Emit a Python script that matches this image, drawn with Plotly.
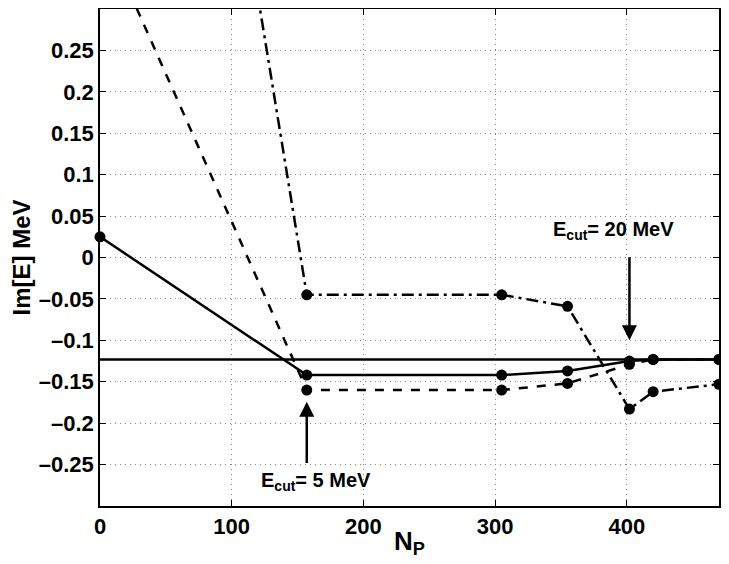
import plotly.graph_objects as go

# N_P values and Im[E] (MeV) for each run
np_solid = [0, 157, 305, 355, 402, 420, 470]
im_solid = [0.025, -0.142, -0.142, -0.137, -0.125, -0.123, -0.123]

np_dash = [0, 157, 305, 355, 402, 420, 470]
im_dash = [0.40, -0.160, -0.160, -0.152, -0.129, -0.123, -0.123]

np_dashdot = [0, 157, 305, 355, 402, 420, 470]
im_dashdot = [1.48, -0.045, -0.045, -0.059, -0.183, -0.162, -0.153]

# exact reference value (horizontal line)
ref_x = [0, 470]
ref_y = [-0.123, -0.123]

FONT = "Liberation Sans"

fig = go.Figure()

fig.add_trace(go.Scatter(x=ref_x, y=ref_y, mode="lines",
                         line=dict(color="black", width=2.5),
                         showlegend=False, hoverinfo="skip"))

series = [
    (np_solid, im_solid, "solid"),
    (np_dash, im_dash, "dash"),
    (np_dashdot, im_dashdot, "12px,5px,3px,5px"),
]
for xs, ys, dash in series:
    fig.add_trace(go.Scatter(
        x=xs, y=ys, mode="lines+markers",
        line=dict(color="black", width=2.5, dash=dash),
        marker=dict(color="black", size=11),
        showlegend=False, cliponaxis=False
    ))

# arrows
fig.add_annotation(x=402, y=-0.1, ax=402, ay=0.002, xref="x", yref="y",
                   axref="x", ayref="y", text="", showarrow=True,
                   arrowhead=2, arrowsize=1.2, arrowwidth=2.5, arrowcolor="black")
fig.add_annotation(x=157, y=-0.174, ax=157, ay=-0.25, xref="x", yref="y",
                   axref="x", ayref="y", text="", showarrow=True,
                   arrowhead=2, arrowsize=1.2, arrowwidth=2.5, arrowcolor="black")

fig.add_annotation(x=390, y=0.033, xref="x", yref="y", showarrow=False,
                   text="<b>E<sub>cut</sub>= 20 MeV</b>",
                   font=dict(family=FONT, size=20, color="black"))
fig.add_annotation(x=164, y=-0.270, xref="x", yref="y", showarrow=False,
                   text="<b>E<sub>cut</sub>= 5 MeV</b>",
                   font=dict(family=FONT, size=20, color="black"))

# x-axis title placed as an annotation so it can sit closer to the tick labels
fig.add_annotation(x=0.5, y=0, xref="paper", yref="paper", yanchor="middle",
                   yshift=-36, showarrow=False,
                   text="<b>N<sub>P</sub></b>",
                   font=dict(family=FONT, size=26, color="black"))

axis_common = dict(
    showline=True, linecolor="black", linewidth=1.5, mirror="ticks",
    ticks="inside", ticklen=6, tickcolor="black",
    showgrid=True, gridcolor="#888888", griddash="1px,4px", gridwidth=1,
    zeroline=False, automargin=False,
    tickfont=dict(family=FONT, size=22, color="black", weight="bold"),
)

fig.update_xaxes(range=[0, 470], tickvals=[0, 100, 200, 300, 400], **axis_common)
fig.update_yaxes(range=[-0.3, 0.3],
                 tickvals=[-0.25, -0.2, -0.15, -0.1, -0.05, 0, 0.05, 0.1, 0.15, 0.2, 0.25],
                 ticktext=["\u20130.25", "\u20130.2", "\u20130.15", "\u20130.1", "\u20130.05",
                           "0", "0.05", "0.1", "0.15", "0.2", "0.25"],
                 title=dict(text="<b>Im[E] MeV</b>", standoff=4,
                            font=dict(family=FONT, size=24, color="black")),
                 **axis_common)

# the page body adds an 8px offset, so the figure is sized to fit the window
fig.update_layout(
    width=721, height=556,
    margin=dict(l=92, r=10, t=1, b=58),
    plot_bgcolor="white", paper_bgcolor="white",
    showlegend=False,
)

fig.write_html("out.html")
